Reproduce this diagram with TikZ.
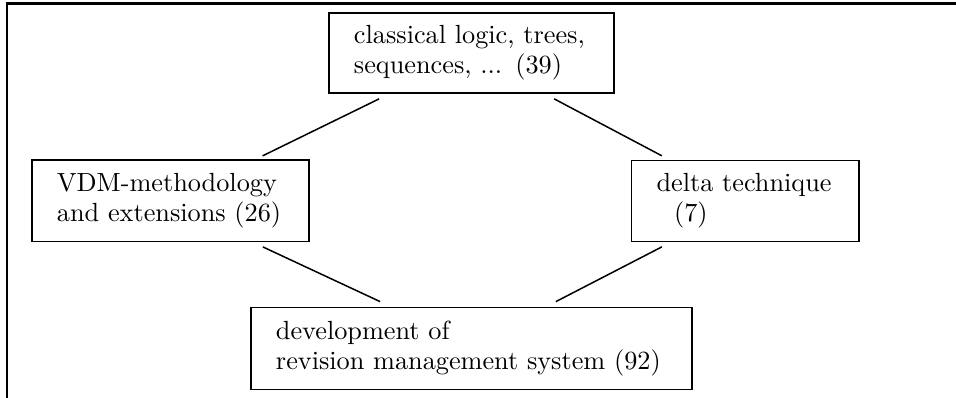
\documentclass[tikz,border=0pt]{standalone}
\usetikzlibrary{calc}
\tikzset
 {box/.style =    % topic boxes, text set flush left with a wide left margin
   {draw, line width=0.7pt, align=left, font=\fontsize{10.5}{12}\selectfont,
    inner xsep=10pt, inner ysep=0pt
   },
  link/.style = {line width=0.6pt},                  % plain lines between boxes
  frame/.style = {line width=1pt}              % the rule on top and on the left
 }

\begin{document}
\begin{tikzpicture}[x=0.4pt, y=-0.4pt]
    \useasboundingbox (0,0) rectangle (956,398);
    \draw[frame] (956,3.3) -- (7,3.3) -- (7,398);

    \node[box, text width=94pt, minimum height=32pt] (logic) at (471.5,53)
        {classical logic, trees,\\ sequences, ... (39)};
    \node[box, text width=90.8pt, minimum height=32.6pt] (vdm) at (170.5,200.8)
        {VDM-methodology\\ and extensions (26)};
    \node[box, text width=71pt, minimum height=32.4pt] (delta) at (745.3,201)
        {delta technique\\ \hspace*{7pt}(7)};
    \node[box, text width=156.4pt, minimum height=32.8pt] (rms) at (471.5,348.5)
        {development of\\ revision management system (92)};

    \draw[link] ($(logic.south west)+(51,5)$) -- ($(vdm.north east)+(-47.3,-3.3)$);
    \draw[link] ($(logic.south east)+(-60.7,5)$) -- ($(delta.north west)+(31.2,-3.8)$);
    \draw[link] ($(vdm.south east)+(-47,4.5)$) -- ($(rms.north west)+(130,-5)$);
    \draw[link] ($(delta.south west)+(31.2,4.5)$) -- ($(rms.north east)+(-137,-5)$);
\end{tikzpicture}
\end{document}
